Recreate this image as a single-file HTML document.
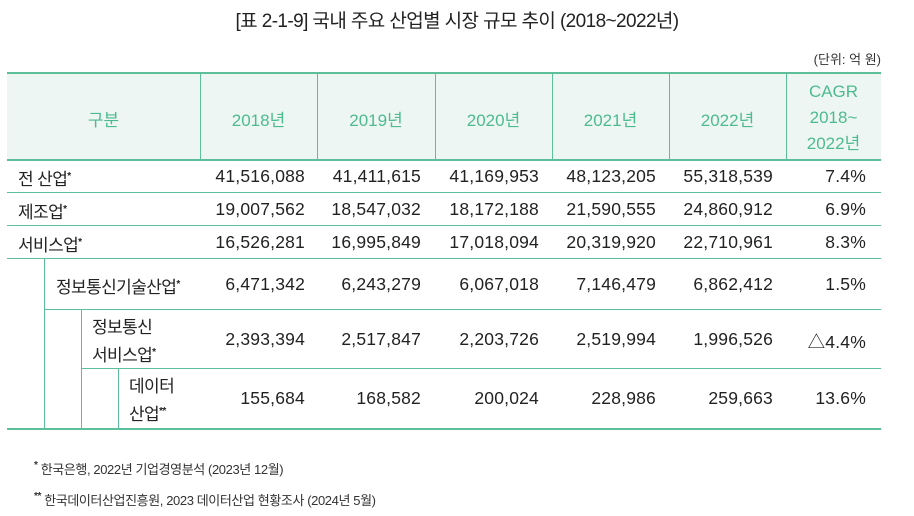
<!DOCTYPE html>
<html><head><meta charset="utf-8"><style>
body{margin:0;width:914px;height:516px;background:#fff;position:relative;overflow:hidden;font-family:"Liberation Sans","Noto Sans CJK KR",sans-serif;color:#222}
.a{position:absolute;white-space:nowrap}
.h{position:absolute;background:#5cbf99}
.t{font-size:17px;letter-spacing:-0.6px}
.n{font-size:17.5px;text-align:right;letter-spacing:0.2px}
.g{color:#4dbb8f;font-size:17px;text-align:center}
sup{font-size:10px;vertical-align:6px;font-weight:bold}
</style></head><body>
<div class="a" style="left:0;width:914px;top:6px;text-align:center;font-size:19px;letter-spacing:-0.6px;color:#222">[표 2-1-9] 국내 주요 산업별 시장 규모 추이 (2018~2022년)</div>
<div class="a" style="right:33px;top:49px;font-size:13px;color:#333">(단위: 억 원)</div>
<div class="a" style="left:7px;top:73px;width:874px;height:87px;background:#eef6f3"></div>
<div class="h" style="left:7px;top:72px;width:874px;height:2px"></div>
<div class="h" style="left:7px;top:159px;width:874px;height:2px"></div>
<div class="h" style="left:7px;top:192px;width:874px;height:1px"></div>
<div class="h" style="left:7px;top:225px;width:874px;height:1px"></div>
<div class="h" style="left:7px;top:258px;width:874px;height:1px"></div>
<div class="h" style="left:44px;top:309px;width:837px;height:1px"></div>
<div class="h" style="left:81px;top:368px;width:800px;height:1px"></div>
<div class="h" style="left:7px;top:428px;width:874px;height:2px"></div>
<div class="h" style="left:44px;top:259px;width:1px;height:170px"></div>
<div class="h" style="left:81px;top:310px;width:1px;height:119px"></div>
<div class="h" style="left:118px;top:369px;width:1px;height:60px"></div>
<div class="h" style="left:200px;top:73px;width:1px;height:87px"></div>
<div class="h" style="left:317px;top:73px;width:1px;height:87px"></div>
<div class="h" style="left:435px;top:73px;width:1px;height:87px"></div>
<div class="h" style="left:552px;top:73px;width:1px;height:87px"></div>
<div class="h" style="left:669px;top:73px;width:1px;height:87px"></div>
<div class="h" style="left:786px;top:73px;width:1px;height:87px"></div>
<div class="a g" style="left:7px;width:193px;top:106px">구분</div>
<div class="a g" style="left:200px;width:117px;top:106px">2018년</div>
<div class="a g" style="left:317px;width:118px;top:106px">2019년</div>
<div class="a g" style="left:435px;width:117px;top:106px">2020년</div>
<div class="a g" style="left:552px;width:117px;top:106px">2021년</div>
<div class="a g" style="left:669px;width:117px;top:106px">2022년</div>
<div class="a g" style="left:786px;width:95px;top:79px;line-height:26px">CAGR<br>2018~<br>2022년</div>
<div id="rows"></div>
<div class="a" style="left:34px;top:459px;font-size:13px;letter-spacing:-0.4px;color:#333"><sup>*</sup> 한국은행, 2022년 기업경영분석 (2023년 12월)</div>
<div class="a" style="left:34px;top:490px;font-size:13px;letter-spacing:-0.4px;color:#333"><sup>**</sup> 한국데이터산업진흥원, 2023 데이터산업 현황조사 (2024년 5월)</div>
<script>
const labels=['전 산업<sup>*</sup>','제조업<sup>*</sup>','서비스업<sup>*</sup>','정보통신기술산업<sup>*</sup>','정보통신<br>서비스업<sup>*</sup>','데이터<br>산업<sup>**</sup>'];
const v2018=['41,516,088','19,007,562','16,526,281','6,471,342','2,393,394','155,684'];
const v2019=['41,411,615','18,547,032','16,995,849','6,243,279','2,517,847','168,582'];
const v2020=['41,169,953','18,172,188','17,018,094','6,067,018','2,203,726','200,024'];
const v2021=['48,123,205','21,590,555','20,319,920','7,146,479','2,519,994','228,986'];
const v2022=['55,318,539','24,860,912','22,710,961','6,862,412','1,996,526','259,663'];
const cagr=['7.4%','6.9%','8.3%','1.5%','△4.4%','13.6%'];
const tops=[160,193,226,259,310,369],bots=[193,226,259,310,369,429],lx=[18,18,18,56,92,129];
const rights=[305,421,539,656,773,866];
const c=document.getElementById('rows');
for(let i=0;i<6;i++){
 const mid=(tops[i]+bots[i])/2;
 const two=labels[i].includes('<br>');
 const l=document.createElement('div');
 
 
 l.className='a t';l.style.left=lx[i]+'px';l.style.lineHeight='25px';
 l.style.top=(mid-(two?25:12.5))+'px';l.innerHTML=labels[i];c.appendChild(l);
 [v2018,v2019,v2020,v2021,v2022,cagr].forEach((arr,j)=>{
  const d=document.createElement('div');
  
  
  d.className='a n';d.style.right=(914-rights[j])+'px';d.style.top=(mid-11)+'px';
  d.textContent=arr[i];c.appendChild(d);
 });
}
</script>
</body></html>
